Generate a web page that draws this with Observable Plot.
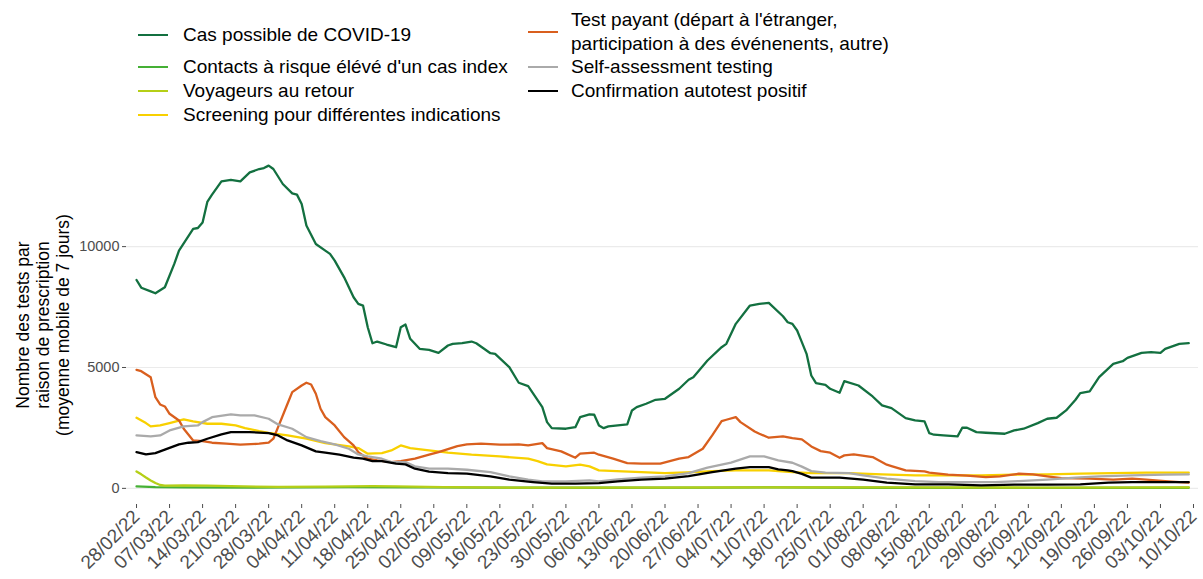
<!DOCTYPE html>
<html><head><meta charset="utf-8">
<script src="https://cdn.jsdelivr.net/npm/d3@7"></script>
<script src="https://cdn.jsdelivr.net/npm/@observablehq/plot@0.6"></script>
<style>
body{margin:0;background:#fff;font-family:"Liberation Sans",Arial,sans-serif;}
#legend{position:relative;width:1203px;height:140px;}
.key{position:absolute;height:0;border-top:2px solid;width:30px;}
.lab{position:absolute;font-size:19px;line-height:24px;color:#000;white-space:nowrap;}
</style></head><body>
<div id="legend"></div><div id="chart"></div>
<script>
// ---- data (day offset from start date, moving-average value) ----
const debut = "2022-02-28";
const noms = [
  "Cas possible de COVID-19",
  "Contacts à risque élévé d'un cas index",
  "Voyageurs au retour",
  "Screening pour différentes indications",
  "Test payant (départ à l'étranger,\nparticipation à des événenents, autre)",
  "Self-assessment testing",
  "Confirmation autotest positif"
];
const couleurs = ["#137040","#45b035","#b5cf17","#f8d000","#d95f1e","#aaaaaa","#000000"];

const casPossible = [[0,8620],[1,8300],[3,8150],[4,8070],[6,8320],[8,9285],[9,9835],[12,10730],[13,10770],[14,11000],[15,11850],[16,12150],[18,12700],[20,12756],[22,12700],[24,13070],[26,13210],[27,13250],[28,13350],[29,13210],[31,12590],[33,12200],[34,12150],[35,11760],[36,10870],[38,10110],[40,9835],[41,9700],[42,9420],[44,8730],[46,7905],[47,7630],[48,7560],[49,6665],[50,6004],[51,6074],[53,5950],[55,5839],[56,6665],[57,6777],[58,6186],[60,5773],[62,5731],[64,5607],[66,5909],[67,5979],[69,6004],[71,6074],[72,6004],[75,5591],[76,5566],[79,5012],[81,4368],[83,4227],[86,3360],[87,2740],[88,2492],[91,2467],[93,2533],[94,2946],[96,3058],[97,3045],[98,2603],[99,2492],[100,2562],[104,2645],[105,3223],[106,3360],[108,3500],[110,3665],[112,3706],[115,4120],[117,4492],[118,4600],[121,5289],[124,5839],[125,5979],[127,6805],[130,7562],[132,7632],[134,7673],[137,7120],[138,6872],[139,6805],[140,6529],[141,6050],[142,5566],[143,4669],[144,4351],[146,4285],[147,4120],[149,3954],[150,4434],[153,4256],[156,3802],[158,3430],[160,3318],[163,2905],[165,2810],[167,2769],[168,2285],[169,2219],[171,2190],[174,2149],[175,2508],[176,2508],[178,2326],[180,2300],[184,2260],[186,2397],[188,2467],[191,2698],[193,2880],[195,2921],[197,3223],[199,3665],[200,3938],[202,4008],[204,4600],[207,5153],[209,5260],[210,5400],[213,5607],[215,5632],[217,5607],[218,5773],[221,5979],[223,6004]];
const contacts = [[0,80],[4,50],[10,40],[25,35],[45,55],[60,40],[90,25],[120,35],[135,40],[160,25],[190,20],[223,25]];
const voyageurs = [[0,700],[1,580],[2,450],[3,330],[4,220],[5,140],[6,110],[10,120],[15,110],[20,90],[30,60],[40,70],[50,90],[55,80],[65,50],[80,30],[100,30],[130,45],[160,40],[190,35],[223,40]];
const screening = [[0,2920],[2,2700],[3,2562],[5,2603],[7,2700],[10,2851],[12,2769],[15,2673],[18,2673],[21,2603],[23,2492],[26,2368],[28,2300],[32,2190],[36,2053],[40,1872],[45,1736],[47,1666],[49,1434],[52,1459],[54,1570],[56,1777],[58,1666],[62,1570],[66,1475],[71,1392],[77,1322],[83,1227],[85,1128],[87,992],[91,909],[94,979],[96,909],[98,744],[103,702],[107,675],[112,632],[118,675],[122,715],[127,744],[134,744],[136,715],[139,675],[143,632],[151,632],[158,579],[165,537],[172,537],[179,537],[186,566],[193,579],[200,607],[207,632],[214,649],[223,649]];
const testPayant = [[0,4904],[1,4847],[3,4600],[4,3773],[5,3471],[6,3388],[7,3086],[9,2810],[10,2467],[12,1983],[14,1955],[16,1888],[19,1847],[22,1806],[26,1847],[28,1888],[29,2053],[30,2533],[32,3500],[33,3979],[35,4256],[36,4368],[37,4298],[38,3913],[39,3293],[40,2946],[42,2603],[44,2120],[46,1777],[47,1500],[49,1227],[51,1157],[54,1087],[56,1128],[59,1227],[62,1392],[64,1500],[68,1748],[70,1818],[73,1847],[77,1806],[81,1818],[83,1777],[86,1872],[87,1666],[90,1529],[93,1268],[94,1434],[97,1475],[98,1392],[101,1227],[104,1046],[107,1020],[111,1020],[115,1227],[117,1294],[120,1640],[122,2190],[124,2781],[125,2839],[127,2946],[128,2740],[131,2355],[132,2260],[134,2095],[137,2149],[139,2079],[141,2025],[143,1736],[145,1541],[147,1475],[149,1268],[150,1364],[152,1405],[156,1294],[159,979],[160,921],[163,744],[167,702],[168,649],[172,566],[176,524],[180,467],[183,496],[187,607],[190,579],[193,496],[196,426],[202,400],[207,360],[211,400],[214,360],[218,302],[221,260],[223,240]];
const selfAssessment = [[0,2190],[3,2149],[5,2190],[7,2397],[10,2562],[13,2603],[14,2740],[16,2946],[20,3058],[22,3017],[25,3017],[28,2880],[30,2645],[33,2467],[36,2120],[39,1955],[42,1818],[45,1640],[47,1405],[49,1322],[52,1227],[54,1087],[57,1087],[59,909],[62,814],[66,814],[70,771],[75,675],[79,496],[83,360],[86,289],[91,289],[96,331],[98,289],[102,372],[107,442],[112,496],[117,632],[121,855],[126,1062],[130,1322],[133,1322],[136,1157],[139,1060],[141,900],[143,715],[146,649],[151,632],[154,537],[159,400],[165,302],[170,260],[176,260],[182,260],[187,302],[193,360],[199,442],[204,496],[211,537],[218,566],[223,579]];
const confirmation = [[0,1500],[2,1405],[4,1459],[6,1600],[9,1818],[11,1888],[13,1913],[15,2053],[18,2231],[20,2326],[24,2326],[28,2285],[30,2190],[32,1983],[35,1777],[38,1529],[40,1475],[43,1392],[46,1268],[48,1227],[50,1128],[52,1128],[55,1020],[57,992],[59,814],[62,690],[66,632],[70,607],[75,496],[79,360],[84,260],[88,194],[93,194],[98,219],[102,289],[107,360],[112,400],[117,508],[122,675],[127,814],[130,880],[134,880],[136,785],[138,744],[139,715],[141,600],[143,442],[149,442],[154,360],[159,235],[165,165],[172,165],[179,124],[186,153],[193,153],[200,165],[206,235],[211,260],[223,260]];

const xTicks = ["2022-02-28","2022-03-07","2022-03-14","2022-03-21","2022-03-28","2022-04-04","2022-04-11","2022-04-18","2022-04-25","2022-05-02","2022-05-09","2022-05-16","2022-05-23","2022-05-30","2022-06-06","2022-06-13","2022-06-20","2022-06-27","2022-07-04","2022-07-11","2022-07-18","2022-07-25","2022-08-01","2022-08-08","2022-08-15","2022-08-22","2022-08-29","2022-09-05","2022-09-12","2022-09-19","2022-09-26","2022-10-03","2022-10-10"];
const yTicks = [0, 5000, 10000];
const yTitre = "Nombre des tests par\nraison de prescription\n(moyenne mobile de 7 jours)";

const series = [casPossible, contacts, voyageurs, screening, testPayant, selfAssessment, confirmation];

// ---- legend ----
const leg = document.getElementById("legend");
const legPos = [
  {kx:138, tx:183, cy:35},{kx:138, tx:183, cy:67},{kx:138, tx:183, cy:91},{kx:138, tx:183, cy:115},
  {kx:528, tx:571, cy:32},{kx:528, tx:571, cy:67},{kx:528, tx:571, cy:91}
];
noms.forEach((n,i) => {
  const p = legPos[i];
  const k = document.createElement("div");
  k.className = "key"; k.style.left = p.kx+"px"; k.style.top = (p.cy-1)+"px"; k.style.borderColor = couleurs[i];
  leg.appendChild(k);
  const t = document.createElement("div");
  t.className = "lab"; t.style.left = p.tx+"px";
  const lines = n.split("\n");
  t.style.top = (p.cy - 12*lines.length)+"px";
  t.innerHTML = lines.join("<br>");
  leg.appendChild(t);
});

// ---- chart ----
const t0 = new Date(debut + "T00:00:00Z").getTime();
const toDate = d => new Date(t0 + d*864e5);

const chart = Plot.plot({
  width: 1203, height: 439,
  marginLeft: 126, marginRight: 5, marginTop: 9, marginBottom: 75,
  style: {fontFamily: "'Liberation Sans', Arial, sans-serif", background: "white", overflow: "visible"},
  x: {type: "utc", domain: [new Date(Date.UTC(2022,1,25,21)), new Date(Date.UTC(2022,9,11,1,30))]},
  y: {domain: [-667, 14017]},
  marks: [
    Plot.ruleY(yTicks, {stroke: "#ebebeb", strokeWidth: 1.2}),
    ...series.map((s,i) => Plot.lineY(s, {x: d => toDate(d[0]), y: d => d[1], stroke: couleurs[i], strokeWidth: 2.3})),
    Plot.axisY({ticks: yTicks, tickFormat: d3.format("d"), tickSize: 4, tickPadding: 3, fontSize: 14.5, color: "#4d4d4d", label: null}),
    Plot.axisX({ticks: xTicks.map(s => new Date(s + "T00:00:00Z")), tickFormat: d3.utcFormat("%d/%m/%y"), tickRotate: -45, tickSize: 4, tickPadding: 5, fontSize: 19, color: "#4d4d4d", label: null}),
    Plot.text([yTitre], {frameAnchor: "left", text: d => d, rotate: -90, dx: -84, dy: -2, fontSize: 17.5, lineHeight: 1.13, textAnchor: "middle", lineAnchor: "middle", fill: "#000"})
  ]
});
document.getElementById("chart").appendChild(chart);
</script></body></html>
